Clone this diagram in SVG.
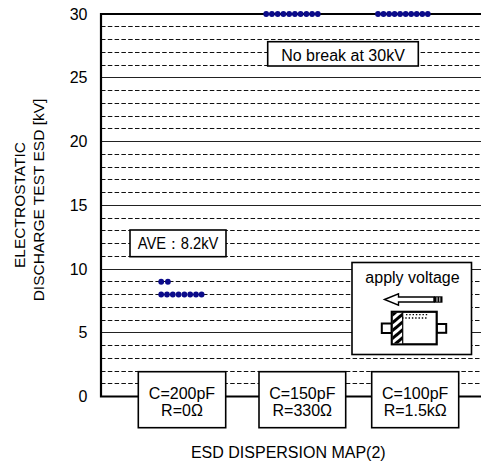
<svg xmlns="http://www.w3.org/2000/svg" width="481" height="463" viewBox="0 0 481 463">
<style>
text{font-family:"Liberation Sans",Arial,sans-serif;fill:#000}
.t16{font-size:16px}
.ax{font-size:15.5px}
.box{fill:#fff;stroke:#000;stroke-width:1.6}
.dash{fill:none;stroke:#111;stroke-width:1;stroke-dasharray:4.5 2.3}
.solid{fill:none;stroke:#222;stroke-width:1}
.thick{fill:none;stroke:#000;stroke-width:2.2}
.dot{fill:#0b0b8a}
</style>
<defs>
<pattern id="hatch" patternUnits="userSpaceOnUse" width="6" height="6" patternTransform="rotate(-40)">
<rect width="6" height="6" fill="#fff"/>
<rect width="6" height="3" fill="#000"/>
</pattern>
</defs>
<rect width="481" height="463" fill="#fff"/>
<g id="grid">
<path class="dash" d="M101 383.5H481M101 371.5H481M101 358.5H481M101 345.5H481M101 320.5H481M101 307.5H481M101 294.5H481M101 281.5H481M101 256.5H481M101 243.5H481M101 230.5H481M101 218.5H481M101 192.5H481M101 179.5H481M101 167.5H481M101 154.5H481M101 128.5H481M101 116.5H481M101 103.5H481M101 90.5H481M101 65.5H481M101 52.5H481M101 39.5H481M101 26.5H481"/>
<path class="solid" d="M101 332.5H481M101 269.5H481M101 205.5H481M101 141.5H481M101 77.5H481"/>
<path class="thick" d="M481 14H101V396.5H481"/>
</g>
<g id="y-axis-labels" class="t16" text-anchor="end">
<text x="87.5" y="19.5">30</text>
<text x="87.5" y="83.25">25</text>
<text x="87.5" y="147">20</text>
<text x="87.5" y="210.75">15</text>
<text x="87.5" y="274.5">10</text>
<text x="87.5" y="338.25">5</text>
<text x="87.5" y="402">0</text>
</g>
<g id="y-axis-title" class="ax" text-anchor="middle">
<text transform="translate(25,205) rotate(-90)">ELECTROSTATIC</text>
<text transform="translate(43.5,200) rotate(-90)">DISCHARGE TEST ESD [kV]</text>
</g>
<g id="data">
<g id="series-200pF">
<circle class="dot" cx="161.2" cy="281.75" r="2.9"/>
<circle class="dot" cx="167.9" cy="281.75" r="2.9"/>
<circle class="dot" cx="161.2" cy="294.5" r="2.9"/>
<circle class="dot" cx="167" cy="294.5" r="2.9"/>
<circle class="dot" cx="172.8" cy="294.5" r="2.9"/>
<circle class="dot" cx="178.6" cy="294.5" r="2.9"/>
<circle class="dot" cx="184.4" cy="294.5" r="2.9"/>
<circle class="dot" cx="190.2" cy="294.5" r="2.9"/>
<circle class="dot" cx="196" cy="294.5" r="2.9"/>
<circle class="dot" cx="201.6" cy="294.5" r="2.9"/>
</g>
<g id="series-150pF">
<circle class="dot" cx="266.2" cy="14" r="2.9"/>
<circle class="dot" cx="271.9" cy="14" r="2.9"/>
<circle class="dot" cx="277.7" cy="14" r="2.9"/>
<circle class="dot" cx="283.4" cy="14" r="2.9"/>
<circle class="dot" cx="289.2" cy="14" r="2.9"/>
<circle class="dot" cx="294.9" cy="14" r="2.9"/>
<circle class="dot" cx="300.6" cy="14" r="2.9"/>
<circle class="dot" cx="306.4" cy="14" r="2.9"/>
<circle class="dot" cx="312.1" cy="14" r="2.9"/>
<circle class="dot" cx="317.8" cy="14" r="2.9"/>
</g>
<g id="series-100pF">
<circle class="dot" cx="378" cy="14" r="2.9"/>
<circle class="dot" cx="383.5" cy="14" r="2.9"/>
<circle class="dot" cx="389.1" cy="14" r="2.9"/>
<circle class="dot" cx="394.6" cy="14" r="2.9"/>
<circle class="dot" cx="400.1" cy="14" r="2.9"/>
<circle class="dot" cx="405.7" cy="14" r="2.9"/>
<circle class="dot" cx="411.2" cy="14" r="2.9"/>
<circle class="dot" cx="416.7" cy="14" r="2.9"/>
<circle class="dot" cx="422.3" cy="14" r="2.9"/>
<circle class="dot" cx="427.8" cy="14" r="2.9"/>
</g>
</g>
<g id="no-break-label">
<rect class="box" x="267.7" y="41.7" width="150.6" height="24.3"/>
<text class="t16" x="343" y="60.5" text-anchor="middle">No break at 30kV</text>
</g>
<g id="ave-label">
<rect class="box" x="130" y="230" width="96" height="26.7"/>
<text class="t16" x="137.7" y="249" textLength="80.7" lengthAdjust="spacingAndGlyphs">AVE：8.2kV</text>
</g>
<g id="apply-voltage">
<rect class="box" x="352" y="262.5" width="119.5" height="92"/>
<text class="t16" x="412.5" y="282.5" text-anchor="middle">apply voltage</text>
<path d="M384.5 299.5L398.5 293.8V297H434V302H398.5V305.2Z" fill="#fff" stroke="#000" stroke-width="1.4" stroke-linejoin="miter"/>
<rect x="434" y="296.3" width="8.5" height="6.4" fill="#000"/>
<path d="M437 297.3V301.7M439.8 297.3V301.7" stroke="#fff" stroke-width="0.9"/>
<rect x="381.8" y="323.5" width="10" height="9.5" fill="#fff" stroke="#000" stroke-width="2"/>
<rect x="436.7" y="324" width="9.5" height="8.8" fill="#fff" stroke="#000" stroke-width="2"/>
<rect x="391.8" y="311.8" width="44.9" height="32.5" fill="#fff" stroke="#000" stroke-width="2.2"/>
<rect x="392.9" y="312.9" width="9.6" height="30.3" fill="url(#hatch)"/>
<path d="M402.7 312.3V343.8" stroke="#000" stroke-width="1.2"/>
<path d="M406 314.6H428M402 318H428" stroke="#000" stroke-width="1.3" stroke-dasharray="1.4 1.9" fill="none"/>
</g>
<g id="cond-200pF">
<rect class="box" x="138.3" y="371.7" width="87.4" height="56"/>
<text class="t16" x="182" y="399" text-anchor="middle">C=200pF</text>
<text class="t16" x="182" y="415.7" text-anchor="middle">R=0Ω</text>
</g>
<g id="cond-150pF">
<rect class="box" x="259" y="371.7" width="86.7" height="56"/>
<text class="t16" x="302.3" y="399" text-anchor="middle">C=150pF</text>
<text class="t16" x="302.3" y="415.7" text-anchor="middle">R=330Ω</text>
</g>
<g id="cond-100pF">
<rect class="box" x="371.7" y="371.7" width="87" height="56"/>
<text class="t16" x="415.2" y="399" text-anchor="middle">C=100pF</text>
<text class="t16" x="415.2" y="415.7" text-anchor="middle">R=1.5kΩ</text>
</g>
<g id="title">
<text class="t16" x="288.3" y="457.5" text-anchor="middle">ESD DISPERSION MAP(2)</text>
</g>
</svg>
